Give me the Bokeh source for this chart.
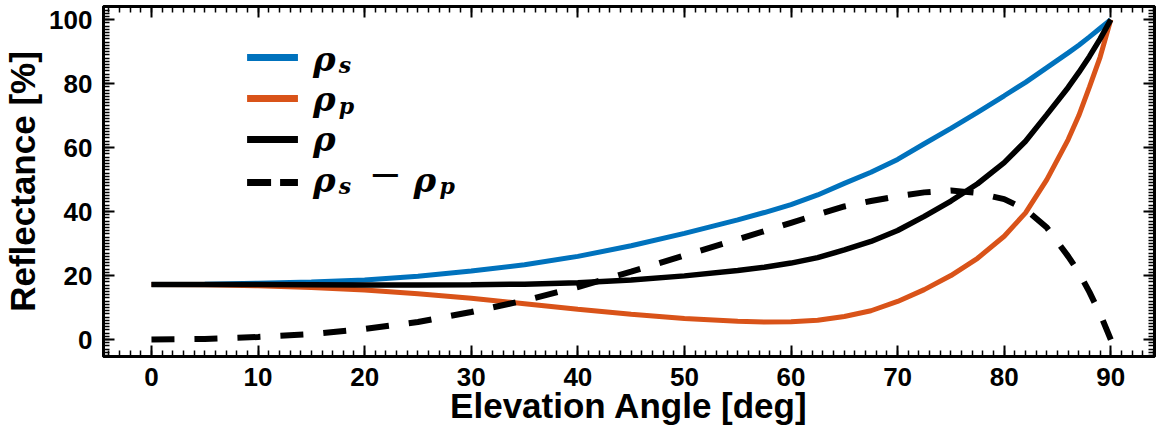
from bokeh.plotting import figure
from bokeh.models import (Range1d, LinearAxis, FixedTicker, ColumnDataSource,
                          Label)
from bokeh.embed import file_html
from bokeh.resources import INLINE

# ---- data ----
angle = [0, 5, 10, 15, 20, 25, 30, 35, 40, 45, 50, 55, 57.5, 60, 62.5, 65, 67.5,
         70, 72.5, 75, 77.5, 80, 82, 84, 86, 87, 88, 89, 90]
rho_s = [17.2, 17.3, 17.6, 18.0, 18.6, 19.8, 21.4, 23.4, 26.0, 29.3, 33.2, 37.4,
         39.7, 42.2, 45.2, 48.8, 52.3, 56.3, 61.2, 66.0, 71.0, 76.2, 80.4, 85.0,
         89.6, 92.0, 94.6, 97.3, 100.0]
rho_p = [17.2, 17.1, 16.8, 16.3, 15.5, 14.3, 12.9, 11.2, 9.5, 7.9, 6.6, 5.7,
         5.5, 5.6, 6.0, 7.2, 9.0, 11.9, 15.6, 20.0, 25.4, 32.3, 39.6, 50.0,
         62.5, 70.0, 79.0, 88.3, 100.0]
rho = [17.2, 17.2, 17.2, 17.15, 17.05, 17.05, 17.15, 17.3, 17.75, 18.6, 19.9,
       21.55, 22.6, 23.9, 25.6, 28.0, 30.65, 34.1, 38.5, 43.3, 48.7, 55.3, 62.0,
       70.3, 78.8, 83.5, 88.5, 94.0, 100.0]
rho_diff = [0.0, 0.2, 0.8, 1.7, 3.3, 5.5, 8.6, 12.2, 16.4, 21.2, 26.3, 31.3,
            33.9, 36.5, 39.1, 41.6, 43.3, 44.8, 46.0, 46.6, 45.8, 43.9, 40.7,
            35.0, 26.0, 21.0, 14.8, 8.0, 0.0]

x_ticks = [0, 10, 20, 30, 40, 50, 60, 70, 80, 90]
y_ticks = [0, 20, 40, 60, 80, 100]

BLUE = "#0072BD"
ORANGE = "#D95319"

# ---- layout: frame placement in the page ----
W, H = 1156, 431
FL, FT, FW, FH = 100, 6, 1054, 350          # frame left, top, width, height
X0, X1 = -4.5, 94.1
Y0, Y1 = -5.3, 104.1

def dx(px):   # page pixel -> data x (for legend placement)
    return X0 + (px - FL) / FW * (X1 - X0)

def dy(py):   # page pixel -> data y (for legend placement)
    return Y1 - (py - FT) / FH * (Y1 - Y0)

src = ColumnDataSource(dict(angle=angle, rho_s=rho_s, rho_p=rho_p, rho=rho,
                            rho_diff=rho_diff))

p = figure(width=W, height=H, output_backend="svg", toolbar_location=None,
           x_range=Range1d(X0, X1), y_range=Range1d(Y0, Y1),
           min_border_left=FL, min_border_right=W - FL - FW, min_border_top=FT,
           min_border_bottom=H - FT - FH)
p.xgrid.visible = False
p.ygrid.visible = False
p.outline_line_color = "black"
p.outline_line_width = 3

p.line("angle", "rho_s", source=src, line_color=BLUE, line_width=5)
p.line("angle", "rho_p", source=src, line_color=ORANGE, line_width=5)
p.line("angle", "rho", source=src, line_color="black", line_width=5.5)
p.line("angle", "rho_diff", source=src, line_color="black", line_width=6,
       line_dash="23 20")

# ---- legend (keys + math labels) ----
key_rows = [57, 98, 139, 182]
key_colors = [BLUE, ORANGE, "black", "black"]
for i, (row, col) in enumerate(zip(key_rows, key_colors)):
    p.segment(x0=dx(244), y0=dy(row), x1=dx(295), y1=dy(row), line_color=col,
              line_width=7, line_dash="24 9" if i == 3 else "solid")

MATH_FONT = "DejaVu Serif"

def txt(px, py, t, size="34px", style="bold italic"):
    p.add_layout(Label(x=dx(px), y=dy(py), text=t, text_font=MATH_FONT,
                       text_font_style=style, text_font_size=size,
                       text_color="black", text_baseline="alphabetic",
                       text_align="left"))

for py in [58, 98, 138, 179]:
    txt(310, py, "ρ")
txt(336, 64, "s", size="22px")
txt(336, 105, "p", size="22px")
txt(336, 185, "s", size="22px")
txt(366, 173, "−", size="40px", style="normal")
txt(411, 179, "ρ")
txt(437, 185, "p", size="22px")

# ---- axes ----
FONT = "Liberation Sans"

def style_axis(ax, labels=True):
    ax.axis_line_color = "black"
    ax.axis_line_width = 3
    ax.major_tick_in = 11
    ax.major_tick_out = 0
    ax.minor_tick_in = 6
    ax.minor_tick_out = 0
    ax.major_tick_line_width = 2
    ax.minor_tick_line_width = 1.5
    if labels:
        ax.major_label_text_font = FONT
        ax.major_label_text_font_style = "bold"
        ax.major_label_text_font_size = "26px"
        ax.major_label_text_color = "black"
        ax.axis_label_text_font = FONT
        ax.axis_label_text_font_style = "bold"
        ax.axis_label_text_font_size = "35px"
        ax.axis_label_text_color = "black"
    else:
        ax.major_label_text_font_size = "0px"
        ax.major_label_text_color = None
        ax.major_label_standoff = 0
        ax.axis_label = None

xt = FixedTicker(ticks=x_ticks, minor_ticks=list(range(-4, 95)))
yt = FixedTicker(ticks=y_ticks, minor_ticks=list(range(-5, 105)))
p.xaxis.ticker = xt
p.yaxis.ticker = yt
p.xaxis.axis_label = "Elevation Angle [deg]"
p.yaxis.axis_label = "Reflectance [%]"
for ax in p.xaxis:
    style_axis(ax)
    ax.major_label_standoff = 11
    ax.axis_label_standoff = -3
for ax in p.yaxis:
    style_axis(ax)
    ax.major_label_standoff = 11
    ax.axis_label_standoff = 4
top = LinearAxis(ticker=xt)
style_axis(top, labels=False)
p.add_layout(top, "above")
right = LinearAxis(ticker=yt)
style_axis(right, labels=False)
p.add_layout(right, "right")

open("out.html", "w").write(file_html(p, INLINE))
